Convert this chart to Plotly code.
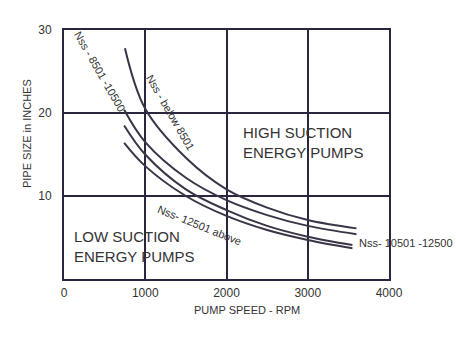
import plotly.graph_objects as go

# Curve data: pump speed (rpm) vs pipe size (inches)
below_8501_x = [750, 1000, 1500, 2000, 2500, 3000, 3600]
below_8501_y = [27.8, 20.5, 14.6, 10.8, 8.6, 7.1, 6.1]

n8501_10500_x = [740, 1000, 1500, 2000, 2500, 3000, 3600]
n8501_10500_y = [20.4, 16.5, 12.2, 9.5, 7.7, 6.4, 5.4]

n10501_12500_x = [740, 1000, 1500, 2000, 2500, 3000, 3550]
n10501_12500_y = [18.5, 15.0, 10.8, 8.3, 6.4, 5.1, 4.1]

n12501_above_x = [740, 1000, 1500, 2000, 2500, 3000, 3550]
n12501_above_y = [16.4, 13.6, 10.0, 7.6, 5.9, 4.7, 3.7]

x_ticks = [0, 1000, 2000, 3000, 4000]
y_ticks = [10, 20, 30]

line_col = "#3a3446"
grid_col = "#2b2540"
font_fam = "Liberation Sans, Arial, sans-serif"

fig = go.Figure()
for xs, ys in [(below_8501_x, below_8501_y), (n8501_10500_x, n8501_10500_y),
               (n10501_12500_x, n10501_12500_y), (n12501_above_x, n12501_above_y)]:
    fig.add_trace(go.Scatter(x=xs, y=ys, mode="lines",
                             line=dict(color=line_col, width=2, shape="spline", smoothing=1.0),
                             showlegend=False, hoverinfo="skip"))

txt = dict(family=font_fam, size=11, color="#333")
ann = [
    dict(x=443, y=24.9, text="Nss - 8501 -10500", textangle=60, font=txt),
    dict(x=1305, y=20.1, text="Nss - below 8501", textangle=60, font=txt),
    dict(x=1662, y=6.5, text="Nss- 12501 above", textangle=22, font=txt),
    dict(x=3606, y=4.3, text="Nss- 10501 -12500", xanchor="left", font=txt),
    dict(x=2178, y=16.4, text="HIGH SUCTION<br>ENERGY PUMPS", xanchor="left", align="left",
         font=dict(family=font_fam, size=15, color="#333")),
    dict(x=98, y=3.9, text="LOW SUCTION<br>ENERGY PUMPS", xanchor="left", align="left",
         font=dict(family=font_fam, size=15, color="#333")),
]
for a in ann:
    a.update(xref="x", yref="y", showarrow=False)
    fig.add_annotation(**a)

# axis titles placed in paper coordinates
fig.add_annotation(x=-0.114, y=0.586, xref="paper", yref="paper", text="PIPE SIZE in INCHES",
                   textangle=-90, showarrow=False, font=txt, xanchor="center", yanchor="middle")
fig.add_annotation(x=0.563, y=-0.1245, xref="paper", yref="paper", text="PUMP SPEED - RPM",
                   showarrow=False, font=txt, xanchor="center", yanchor="middle")

fig.update_layout(
    width=456, height=337,
    margin=dict(l=64, r=67, t=30, b=58),
    paper_bgcolor="white", plot_bgcolor="white",
    font=dict(family=font_fam, size=12, color="#333"),
)
fig.update_xaxes(range=[0, 4000], tickvals=x_ticks, showgrid=True, gridcolor=grid_col, gridwidth=2,
                 showline=True, linecolor=grid_col, linewidth=2, mirror=True, zeroline=False,
                 ticks="", ticklabelstandoff=2, tickfont=dict(size=12, color="#333"))
fig.update_yaxes(range=[0, 30], tickvals=y_ticks, showgrid=True, gridcolor=grid_col, gridwidth=2,
                 showline=True, linecolor=grid_col, linewidth=2, mirror=True, zeroline=False,
                 ticks="", ticklabelstandoff=8, tickfont=dict(size=12, color="#333"))

fig.write_html("out.html")
